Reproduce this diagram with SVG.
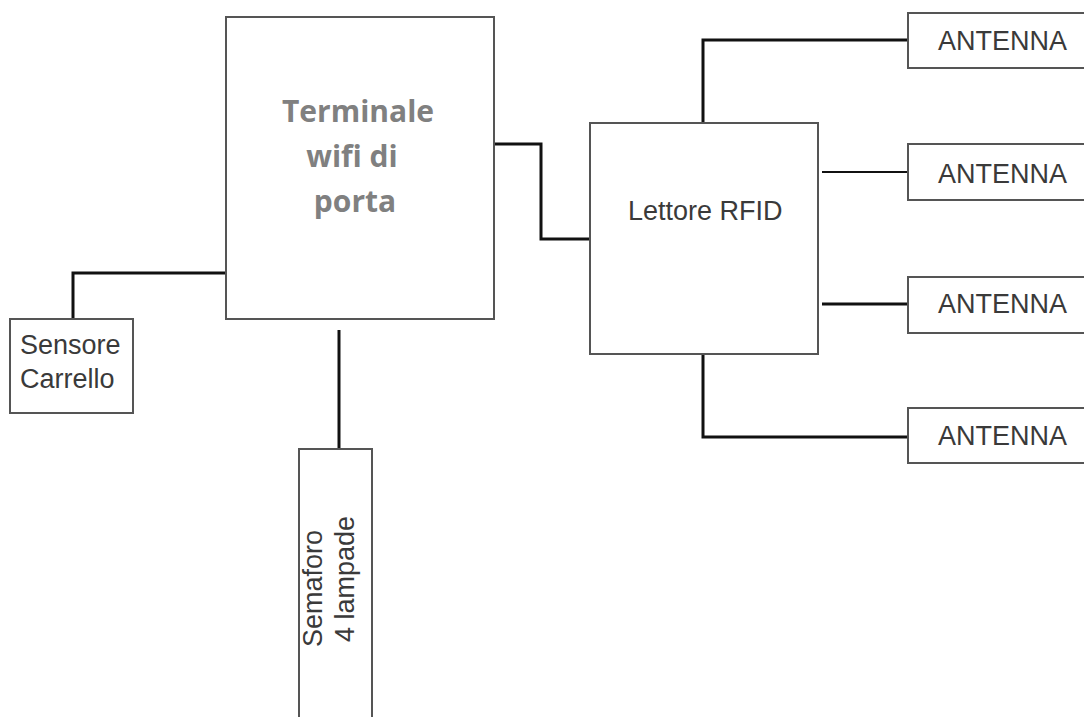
<svg xmlns="http://www.w3.org/2000/svg" width="1084" height="717" viewBox="0 0 1084 717">
<style>
.box{fill:#fff;stroke:#555;stroke-width:2}
.lbl{font-family:"Liberation Sans",Arial,sans-serif;font-size:27px;fill:#3a3a3a}
.ttl{font-family:"Open Sans","Liberation Sans",sans-serif;font-weight:700;font-size:30px;fill:#808080;text-anchor:middle}
.w{fill:none;stroke:#111;stroke-width:3}
.t{fill:none;stroke:#111;stroke-width:2}
</style>
<rect width="1084" height="717" fill="#fff"/>
<g id="connectors">
<polyline class="w" points="226,273 73,273 73,319"/>
<line class="w" x1="339" y1="330" x2="339" y2="449"/>
<polyline class="w" points="494,144 541,144 541,239 590,239"/>
<polyline class="w" points="703,123 703,40 908,40"/>
<line class="t" x1="822" y1="172" x2="908" y2="172"/>
<line class="w" x1="822" y1="304" x2="908" y2="304"/>
<polyline class="w" points="703,354 703,437 908,437"/>
</g>
<g id="terminale">
<rect class="box" x="226" y="17" width="268" height="302"/>
<text class="ttl" x="358" y="122">Terminale</text>
<text class="ttl" x="352" y="167">wifi di</text>
<text class="ttl" x="355" y="212">porta</text>
</g>
<g id="sensore">
<rect class="box" x="10" y="319" width="123" height="94"/>
<text class="lbl" x="20" y="354">Sensore</text>
<text class="lbl" x="20" y="388">Carrello</text>
</g>
<g id="semaforo">
<rect class="box" x="299" y="449" width="73" height="280"/>
<text class="lbl" transform="translate(322,647) rotate(-90)">Semaforo</text>
<text class="lbl" transform="translate(354,642) rotate(-90)">4 lampade</text>
</g>
<g id="lettore">
<rect class="box" x="590" y="123" width="228" height="231"/>
<text class="lbl" x="628" y="220">Lettore RFID</text>
</g>
<g id="antenna1">
<rect class="box" x="908" y="13" width="190" height="55"/>
<text class="lbl" x="938" y="50">ANTENNA</text>
</g>
<g id="antenna2">
<rect class="box" x="908" y="144" width="190" height="56"/>
<text class="lbl" x="938" y="183">ANTENNA</text>
</g>
<g id="antenna3">
<rect class="box" x="908" y="277" width="190" height="56"/>
<text class="lbl" x="938" y="313">ANTENNA</text>
</g>
<g id="antenna4">
<rect class="box" x="908" y="408" width="190" height="55"/>
<text class="lbl" x="938" y="445">ANTENNA</text>
</g>
</svg>
